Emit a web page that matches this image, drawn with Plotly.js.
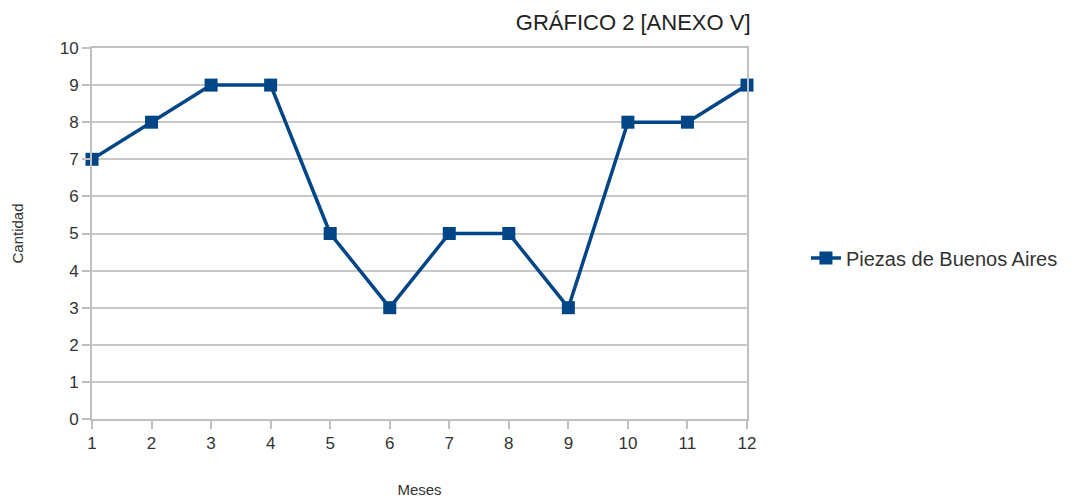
<!DOCTYPE html>
<html>
<head>
<meta charset="utf-8">
<script src="https://cdn.plot.ly/plotly-3.0.1.min.js"></script>
<style>html,body{margin:0;padding:0;background:#fff;}#chart{width:1083px;height:501px;}</style>
</head>
<body>
<div id="chart"></div>
<script>
const meses = [1, 2, 3, 4, 5, 6, 7, 8, 9, 10, 11, 12];
const piezasBuenosAires = [7, 8, 9, 9, 5, 3, 5, 5, 3, 8, 8, 9];
const serieNombre = "Piezas de Buenos Aires";
const tituloTexto = "GRÁFICO 2 [ANEXO V]";

const font = "Liberation Sans, Arial, sans-serif";
const trace = {
  x: meses, y: piezasBuenosAires, name: serieNombre,
  type: "scatter", mode: "lines+markers", cliponaxis: false,
  line: {color: "#004586", width: 3.5},
  marker: {symbol: "square", size: 13, color: "#004586"},
  showlegend: true
};
const layout = {
  width: 1083, height: 501,
  margin: {l: 92, r: 336, t: 48, b: 82},
  paper_bgcolor: "#fff", plot_bgcolor: "#fff",
  font: {family: font, color: "#333", size: 17},
  title: {text: tituloTexto, x: 0.693, xanchor: "right", y: 0.955, yanchor: "middle",
          font: {family: font, size: 22, color: "#222"}},
  xaxis: {range: [1, 12], tickvals: meses, showgrid: false, zeroline: false,
          showline: true, linecolor: "#c0c0c0", linewidth: 2, mirror: true,
          ticks: "outside", ticklen: 8, tickcolor: "#c0c0c0", tickwidth: 2,
          tickfont: {size: 17, color: "#333"},
          title: {text: "Meses", font: {size: 15, color: "#333"}, standoff: 32}},
  yaxis: {range: [0, 10], dtick: 1, showgrid: true, gridcolor: "#c8c8c8", gridwidth: 2, zeroline: false,
          showline: true, linecolor: "#c0c0c0", linewidth: 2, mirror: true,
          ticks: "outside", ticklen: 8, tickcolor: "#c0c0c0", tickwidth: 2,
          tickfont: {size: 17, color: "#333"},
          title: {text: "Cantidad", font: {size: 15, color: "#333"}, standoff: 32}},
  legend: {x: 1.09, y: 0.434, xanchor: "left", yanchor: "middle", font: {size: 20, color: "#333"},
           bgcolor: "rgba(0,0,0,0)"}
};
Plotly.newPlot("chart", [trace], layout, {displayModeBar: false, staticPlot: true});
</script>
</body>
</html>
